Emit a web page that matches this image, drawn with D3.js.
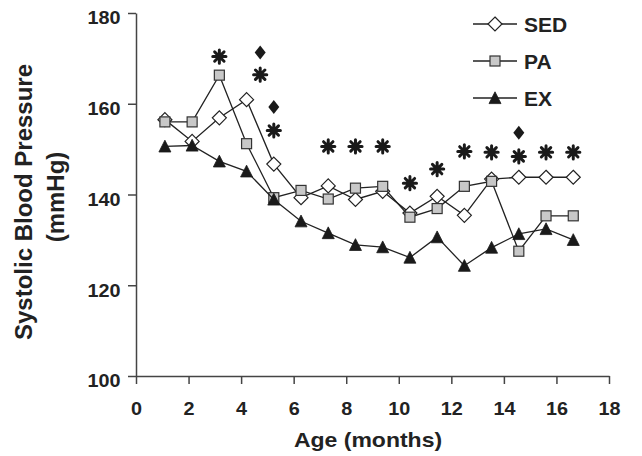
<!DOCTYPE html>
<html>
<head>
<meta charset="utf-8">
<script src="https://cdn.jsdelivr.net/npm/d3@7"></script>
<style>
  body { margin: 0; background: #fff; }
  svg { display: block; font-family: "Liberation Sans", Arial, sans-serif; font-weight: bold; }
</style>
</head>
<body>
<svg id="chart" width="642" height="456"></svg>
<script>
// Systolic blood pressure by age, three groups.

var months = [1, 2, 3, 4, 5, 6, 7, 8, 9, 10, 11, 12, 13, 14, 15, 16];
var sed = [156.5, 151.7, 156.9, 160.9, 146.7, 139.3, 141.9, 138.9, 140.7, 135.9, 139.6, 135.4, 143.4, 143.8, 143.8, 143.8];
var pa  = [156.0, 156.0, 166.3, 151.2, 139.3, 140.9, 139.0, 141.4, 141.8, 135.0, 136.9, 141.8, 142.9, 127.5, 135.3, 135.3];
var ex  = [150.6, 150.8, 147.3, 145.1, 138.9, 134.1, 131.5, 128.9, 128.4, 126.1, 130.6, 124.3, 128.3, 131.3, 132.4, 130.0];

// Significance marks (asterisks and filled diamonds)
var starMonths = [3, 4.5, 5, 7, 8, 9, 10, 11, 12, 13, 14, 15, 16];
var starValues = [170.4, 166.4, 154.1, 150.6, 150.6, 150.6, 142.5, 145.6, 149.5, 149.3, 148.4, 149.3, 149.3];
var gemMonths = [4.5, 5, 14];
var gemValues = [171.3, 159.3, 153.6];

var xTicks = [0, 2, 4, 6, 8, 10, 12, 14, 16, 18];
var yTicks = [100, 120, 140, 160, 180];
var seriesNames = ["SED", "PA", "EX"];

var svg = d3.select("#chart");
var ink = "#222";

var x = d3.scaleLinear().domain([0, 18]).range([136, 609]);
var y = d3.scaleLinear().domain([100, 180]).range([376, 13]);
// the plotted points sit a little right of the axis ticks in the original figure
var xPos = d3.scaleLinear().domain([1, 16]).range([x(1.1), x(16.64)]);

// Axes
var xAxis = svg.append("g")
    .attr("transform", "translate(0," + y(100) + ")")
    .call(d3.axisBottom(x).tickValues(xTicks).tickSize(8).tickSizeOuter(0).tickPadding(18));
var yAxis = svg.append("g")
    .attr("transform", "translate(" + x(0) + ",0)")
    .call(d3.axisLeft(y).tickValues(yTicks).tickSize(8).tickSizeOuter(0).tickPadding(6));

[xAxis, yAxis].forEach(function (ax) {
    ax.select(".domain").attr("stroke", "#444").attr("stroke-width", 1.5);
    ax.selectAll(".tick line").attr("stroke", "#444").attr("stroke-width", 1.5);
    ax.selectAll(".tick text")
        .attr("fill", ink)
        .style("font-size", "18px")
        .style("font-weight", "bold");
});
xAxis.selectAll(".tick text").attr("transform", "scale(1.1,1)");
yAxis.selectAll(".tick text").attr("dy", "0.6em").attr("transform", "scale(1.1,1)");

// Axis titles
svg.append("text")
    .attr("transform", "translate(368,447) scale(1.15,1)")
    .attr("text-anchor", "middle")
    .attr("fill", ink)
    .style("font-size", "20px")
    .text("Age (months)");
svg.append("text")
    .attr("transform", "translate(32,202) rotate(-90)")
    .attr("text-anchor", "middle")
    .attr("fill", ink)
    .style("font-size", "24px")
    .text("Systolic Blood Pressure");
svg.append("text")
    .attr("transform", "translate(64,197) rotate(-90)")
    .attr("text-anchor", "middle")
    .attr("fill", ink)
    .style("font-size", "24px")
    .text("(mmHg)");

// Marker shapes
var markers = {
    SED: function (g) {
        g.append("path").attr("d", "M0,-7L7,0L0,7L-7,0Z")
            .attr("fill", "#fff").attr("stroke", ink).attr("stroke-width", 1.2);
    },
    PA: function (g) {
        g.append("rect").attr("x", -5).attr("y", -5).attr("width", 10).attr("height", 10)
            .attr("fill", "#c8c8c8").attr("stroke", "#333").attr("stroke-width", 1.2);
    },
    EX: function (g) {
        g.append("path").attr("d", "M0,-6.2L6,5.6L-6,5.6Z")
            .attr("fill", "#1a1a1a").attr("stroke", "#1a1a1a").attr("stroke-width", 0.8);
    }
};

var seriesData = { SED: sed, PA: pa, EX: ex };
var line = d3.line()
    .x(function (d, i) { return xPos(months[i]); })
    .y(function (d) { return y(d); });

seriesNames.forEach(function (name) {
    var vals = seriesData[name];
    svg.append("path")
        .attr("d", line(vals))
        .attr("fill", "none")
        .attr("stroke", ink)
        .attr("stroke-width", 1.3);
    svg.append("g").selectAll("g")
        .data(vals)
        .join("g")
        .attr("transform", function (d, i) { return "translate(" + xPos(months[i]) + "," + y(d) + ")"; })
        .each(function () { markers[name](d3.select(this)); });
});

// Asterisks
svg.append("g").selectAll("path")
    .data(starMonths)
    .join("path")
    .attr("transform", function (d, i) { return "translate(" + xPos(d) + "," + y(starValues[i]) + ")"; })
    .attr("d", "M0,-6.6V6.6M-6.6,0H6.6M-4.7,-4.7L4.7,4.7M-4.7,4.7L4.7,-4.7")
    .attr("stroke", "#1a1a1a")
    .attr("stroke-width", 3)
    .attr("stroke-linecap", "round");

// Filled diamonds
svg.append("g").selectAll("path")
    .data(gemMonths)
    .join("path")
    .attr("transform", function (d, i) { return "translate(" + xPos(d) + "," + y(gemValues[i]) + ")"; })
    .attr("d", "M0,-7L5.5,0L0,7L-5.5,0Z")
    .attr("fill", "#1a1a1a");

// Legend
var legendY = d3.scalePoint().domain(seriesNames).range([24, 98]);
var legend = svg.append("g").selectAll("g")
    .data(seriesNames)
    .join("g")
    .attr("transform", function (d) { return "translate(495," + legendY(d) + ")"; });
legend.append("line")
    .attr("x1", -22).attr("x2", 22)
    .attr("stroke", ink).attr("stroke-width", 1.3);
legend.each(function (d) { markers[d](d3.select(this)); });
legend.append("text")
    .attr("x", 29).attr("y", 7.5)
    .attr("fill", ink)
    .style("font-size", "21px")
    .text(function (d) { return d; });
</script>
</body>
</html>
